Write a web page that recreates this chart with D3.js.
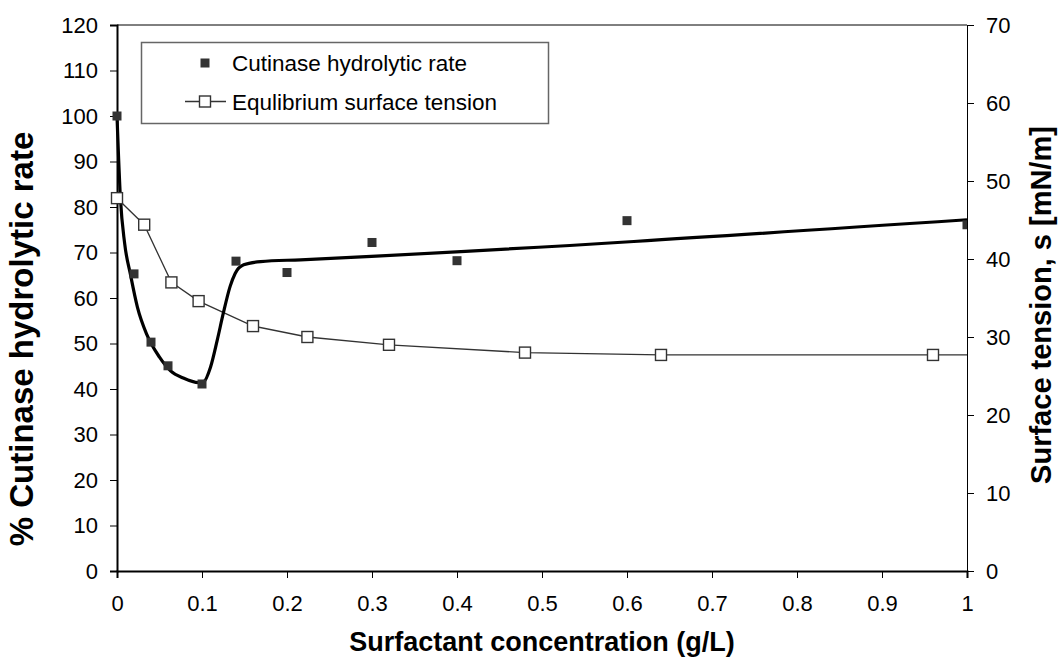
<!DOCTYPE html>
<html>
  <head>
    <title>Cutinase hydrolytic rate and surface tension</title>
    <script src="https://d3js.org/d3.v7.min.js"></script>
    <style>
      body { margin: 0; background: white; }
      svg { font-family: "Liberation Sans", Arial, sans-serif; }
      .tick text { font-size: 22px; fill: #000; }
      .axisTitle { font-weight: bold; }
      .legendText { font-size: 22.5px; }
    </style>
  </head>
  <body>
    <script>
      // hydrolytic rate measurements (% of control)
      var rateX = [0, 0.02, 0.04, 0.06, 0.1, 0.14, 0.2, 0.3, 0.4, 0.6, 1.0];
      var rateY = [100, 65.3, 50.3, 45.1, 41.1, 68.1, 65.6, 72.2, 68.2, 77, 76.1];

      // hand-drawn trend through the rate points
      var trendX = [0, 0.004, 0.009, 0.016, 0.024, 0.035, 0.05, 0.063, 0.078, 0.096, 0.102, 0.11, 0.118, 0.125, 0.133, 0.139, 0.149, 0.169, 0.216, 1.0];
      var trendY = [100, 82, 72, 65, 58, 52, 47, 44, 42.4, 41.4, 41.6, 44.8, 50.8, 56.6, 62.5, 65.4, 67.3, 68, 68.4, 77.2];

      // equilibrium surface tension (mN/m); last point lies past the axis
      var tensionX = [0, 0.032, 0.064, 0.096, 0.16, 0.224, 0.32, 0.48, 0.64, 0.96, 1.28];
      var tensionY = [47.8, 44.4, 37.0, 34.6, 31.4, 30.0, 29.0, 28.0, 27.7, 27.7, 27.7];

      var xTicks = [0, 0.1, 0.2, 0.3, 0.4, 0.5, 0.6, 0.7, 0.8, 0.9, 1];
      var leftTicks = [0, 10, 20, 30, 40, 50, 60, 70, 80, 90, 100, 110, 120];
      var rightTicks = [0, 10, 20, 30, 40, 50, 60, 70];

      var width = 1059;
      var height = 666;
      var margin = {top: 25, left: 117, right: 92, bottom: 95};

      var svg = d3.select("body")
        .append("svg")
        .attr("width", width)
        .attr("height", height);

      var xScale = d3.scaleLinear()
        .domain([0, 1])
        .range([margin.left, width - margin.right]);

      var yLeft = d3.scaleLinear()
        .domain([0, 120])
        .range([height - margin.bottom, margin.top]);

      var yRight = d3.scaleLinear()
        .domain([0, 70])
        .range([height - margin.bottom, margin.top]);

      svg.append("clipPath")
        .attr("id", "plotClip")
        .append("rect")
          .attr("x", margin.left - 8)
          .attr("y", margin.top - 8)
          .attr("width", xScale(1) - margin.left + 8)
          .attr("height", height - margin.bottom - margin.top + 16);

      // top border of the plot area
      svg.append("line")
        .attr("x1", xScale(0)).attr("x2", xScale(1))
        .attr("y1", yLeft(120)).attr("y2", yLeft(120))
        .attr("stroke", "#000")
        .attr("stroke-width", 1);

      var xAxis = svg.append("g")
        .attr("class", "axis")
        .attr("transform", `translate(0,${yLeft(0)})`)
        .call(d3.axisBottom(xScale).tickValues(xTicks).tickSize(7).tickPadding(17).tickFormat(d3.format("")));

      var leftAxis = svg.append("g")
        .attr("class", "axis")
        .attr("transform", `translate(${xScale(0)},0)`)
        .call(d3.axisLeft(yLeft).tickValues(leftTicks).tickSize(7).tickPadding(12));

      var rightAxis = svg.append("g")
        .attr("class", "axis")
        .attr("transform", `translate(${xScale(1)},0)`)
        .call(d3.axisRight(yRight).tickValues(rightTicks).tickSize(7).tickPadding(12));

      svg.selectAll(".axis .domain").attr("stroke", "#000");
      svg.selectAll(".axis .tick line").attr("stroke", "#000");
      xAxis.select(".domain").attr("stroke-width", 2);
      leftAxis.select(".domain").attr("stroke-width", 2);
      rightAxis.select(".domain").attr("stroke-width", 1);

      var plot = svg.append("g").attr("clip-path", "url(#plotClip)");

      // surface tension line and open markers
      var tension = tensionX.map(function(x, i) { return {x: x, y: tensionY[i]}; });

      plot.append("path")
        .datum(tension)
        .attr("fill", "none")
        .attr("stroke", "#333")
        .attr("stroke-width", 1.3)
        .attr("d", d3.line()
          .x(function(d) { return xScale(d.x); })
          .y(function(d) { return yRight(d.y); }));

      // trend curve for the hydrolytic rate
      var trend = trendX.map(function(x, i) { return {x: x, y: trendY[i]}; });

      plot.append("path")
        .datum(trend)
        .attr("fill", "none")
        .attr("stroke", "#000")
        .attr("stroke-width", 3.2)
        .attr("stroke-linejoin", "round")
        .attr("d", d3.line()
          .curve(d3.curveMonotoneX)
          .x(function(d) { return xScale(d.x); })
          .y(function(d) { return yLeft(d.y); }));

      plot.selectAll(".openSq")
        .data(tension)
        .enter()
        .append("rect")
          .attr("class", "openSq")
          .attr("x", function(d) { return xScale(d.x) - 5.5; })
          .attr("y", function(d) { return yRight(d.y) - 5.5; })
          .attr("width", 11)
          .attr("height", 11)
          .attr("fill", "white")
          .attr("stroke", "#333")
          .attr("stroke-width", 1.4);

      var rate = rateX.map(function(x, i) { return {x: x, y: rateY[i]}; });

      plot.selectAll(".fillSq")
        .data(rate)
        .enter()
        .append("rect")
          .attr("class", "fillSq")
          .attr("x", function(d) { return xScale(d.x) - 4.5; })
          .attr("y", function(d) { return yLeft(d.y) - 4.5; })
          .attr("width", 9)
          .attr("height", 9)
          .attr("fill", "#333");

      // legend
      var legend = svg.append("g");

      legend.append("rect")
        .attr("x", 141.5)
        .attr("y", 42.5)
        .attr("width", 407)
        .attr("height", 81)
        .attr("fill", "white")
        .attr("stroke", "#666")
        .attr("stroke-width", 1.5);

      legend.append("rect")
        .attr("x", 200.5).attr("y", 58.5)
        .attr("width", 9).attr("height", 9)
        .attr("fill", "#333");

      legend.append("text")
        .attr("class", "legendText")
        .attr("x", 232)
        .attr("y", 71)
        .text("Cutinase hydrolytic rate");

      legend.append("line")
        .attr("x1", 185).attr("x2", 226)
        .attr("y1", 101.5).attr("y2", 101.5)
        .attr("stroke", "#333")
        .attr("stroke-width", 1.3);

      legend.append("rect")
        .attr("x", 199.5).attr("y", 96)
        .attr("width", 11).attr("height", 11)
        .attr("fill", "white")
        .attr("stroke", "#333")
        .attr("stroke-width", 1.4);

      legend.append("text")
        .attr("class", "legendText")
        .attr("x", 232)
        .attr("y", 109.5)
        .text("Equlibrium surface tension");

      // axis titles
      svg.append("text")
        .attr("class", "axisTitle")
        .attr("font-size", 27)
        .attr("x", (xScale(0) + xScale(1)) / 2)
        .attr("y", 651)
        .attr("text-anchor", "middle")
        .text("Surfactant concentration (g/L)");

      svg.append("text")
        .attr("class", "axisTitle")
        .attr("font-size", 33)
        .attr("transform", "translate(33,339) rotate(-90)")
        .attr("text-anchor", "middle")
        .text("% Cutinase hydrolytic rate");

      svg.append("text")
        .attr("class", "axisTitle")
        .attr("font-size", 29)
        .attr("transform", "translate(1051,305) rotate(-90)")
        .attr("text-anchor", "middle")
        .text("Surface tension, s [mN/m]");
    </script>
  </body>
</html>
